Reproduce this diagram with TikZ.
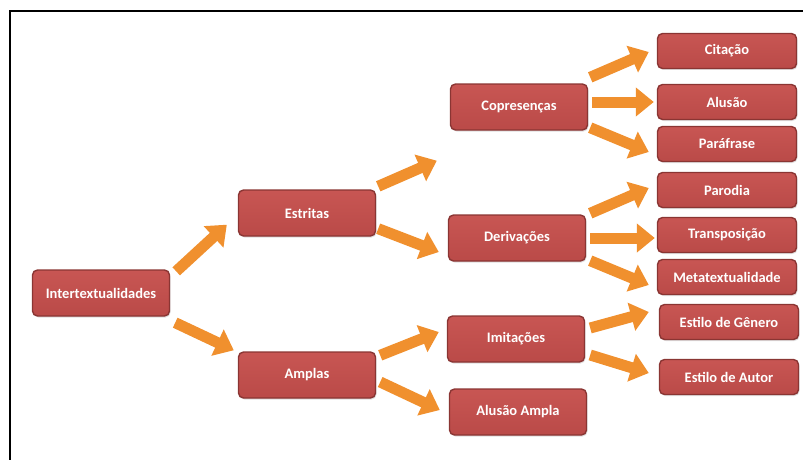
\documentclass[tikz,border=0pt]{standalone}
\usepackage{fontspec}
\setmainfont{Carlito}
\usetikzlibrary{arrows.meta,shadows}
\definecolor{boxtop}{HTML}{C85653}
\definecolor{boxbot}{HTML}{BA4A48}
\definecolor{boxedge}{HTML}{8A3533}
\definecolor{arrorange}{HTML}{F0902E}
\tikzset{
  cat/.style={draw=boxedge,line width=1.4pt,rounded corners=5pt,
             top color=boxtop,bottom color=boxbot,text=white,
             minimum width=137pt,minimum height=46pt,align=center,
             font=\bfseries\fontsize{14.5}{16}\selectfont,
             drop shadow={opacity=0.25,shadow xshift=1pt,shadow yshift=-1.5pt}},
  leaf/.style={cat,minimum width=139pt,minimum height=35pt},
  flow/.style={-{Triangle[length=18pt,width=28pt]},line width=11pt,draw=arrorange},
  frame/.style={line width=2.5pt,black},
}

\begin{document}
\begin{tikzpicture}[x=1pt,y=-1pt]
  \useasboundingbox (0,0) rectangle (803,460);
  \draw[frame] (10,460) -- (10,11) -- (803,11);

  % root and first level
  \node[cat] (inter) at (101,293) {Intertextualidades};
  \node[cat] (estritas) at (307,213) {Estritas};
  \node[cat] (amplas) at (307,375) {Amplas};

  % second level
  \node[cat] (copres) at (519,107) {Copresenças};
  \node[cat] (deriv) at (517,238) {Derivações};
  \node[cat] (imit) at (516,339) {Imitações};
  \node[cat] (alusamp) at (518,412) {Alusão Ampla};

  % leaves
  \node[leaf] (citacao) at (727,51) {Citação};
  \node[leaf] (alusao) at (727,102) {Alusão};
  \node[leaf] (parafrase) at (727,144) {Paráfrase};
  \node[leaf] (parodia) at (727,190) {Parodia};
  \node[leaf] (transp) at (727,235) {Transposição};
  \node[leaf] (meta) at (727,277) {Metatextualidade};
  \node[leaf] (estgen) at (729,322) {Estilo de Gênero};
  \node[leaf] (estaut) at (729,377) {Estilo de Autor};

  \draw[flow] ([shift={(6,2)}]inter.north east) -- ([shift={(-11,-12)}]estritas.south west);
  \draw[flow] ([shift={(5,6)}]inter.south east) -- ([shift={(-4,-1)}]amplas.north west);

  \draw[flow] ([shift={(2,-3)}]estritas.north east) -- ([shift={(-13,30)}]copres.south west);
  \draw[flow] ([shift={(2,-8)}]estritas.south east) -- ([shift={(-9,14)}]deriv.west);
  \draw[flow] ([shift={(4,4)}]amplas.north east) -- ([shift={(-8,-7)}]imit.west);
  \draw[flow] ([shift={(4,7)}]amplas.east) -- ([shift={(-9,-2)}]alusamp.west);

  \draw[flow] ([shift={(2,-6)}]copres.north east) -- ([shift={(-8,1)}]citacao.west);
  \draw[flow] ([shift={(4,-5)}]copres.east) -- ([shift={(-3,0)}]alusao.west);
  \draw[flow] ([shift={(2,-3)}]copres.south east) -- ([shift={(-8,8)}]parafrase.west);
  \draw[flow] ([shift={(4,-1)}]deriv.north east) -- ([shift={(-8,-2)}]parodia.west);
  \draw[flow] ([shift={(4,0)}]deriv.east) -- ([shift={(-2,3)}]transp.west);
  \draw[flow] ([shift={(4,-1)}]deriv.south east) -- ([shift={(-8,8)}]meta.west);
  \draw[flow] ([shift={(5,-11)}]imit.east) -- ([shift={(-10,-10)}]estgen.west);
  \draw[flow] ([shift={(5,16)}]imit.east) -- ([shift={(-10,-4)}]estaut.west);
\end{tikzpicture}
\end{document}
